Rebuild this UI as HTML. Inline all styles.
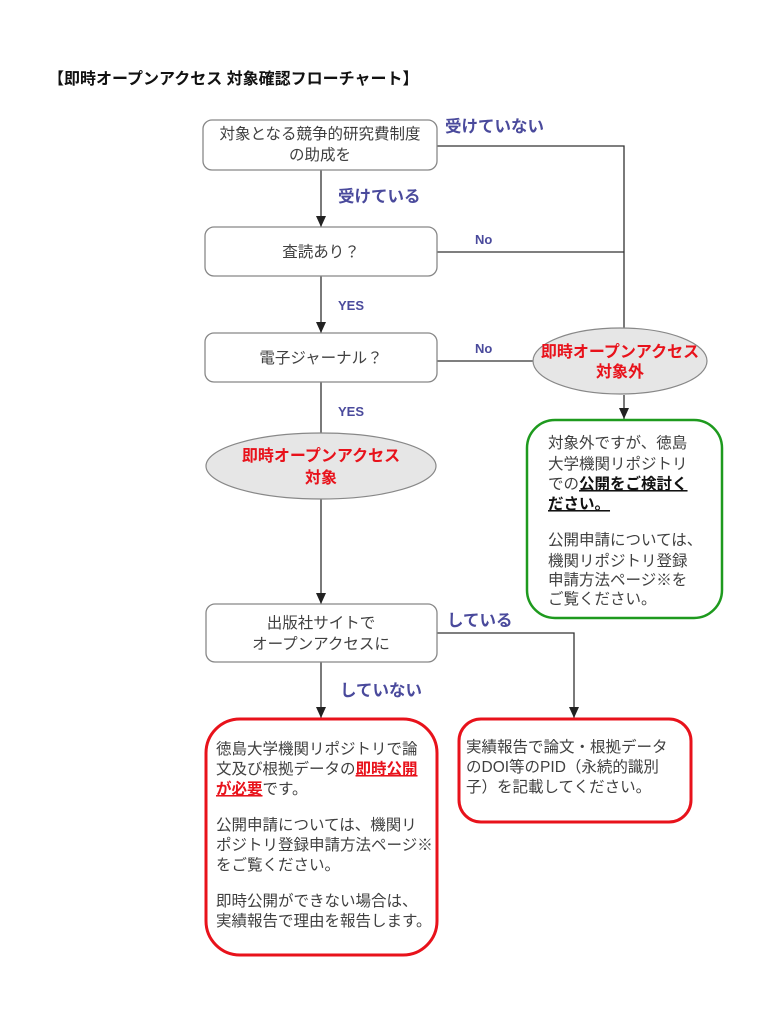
<!DOCTYPE html>
<html><head><meta charset="utf-8"><style>
html,body{margin:0;padding:0;background:#fff;}
svg{display:block;font-family:"Liberation Sans","Noto Sans CJK JP",sans-serif;}
.t{font-size:15.5px;fill:#404040;}
.c{text-anchor:middle;}
.lb{font-size:16.5px;fill:#4a4a9c;font-weight:bold;}
.r{fill:#e8121b;font-weight:bold;font-size:16px;text-anchor:middle;}
.ln{stroke:#333;stroke-width:1.3;fill:none;}
.bx{fill:#fff;stroke:#888;stroke-width:1.3;}
</style></head><body>
<svg width="765" height="1024" viewBox="0 0 765 1024">
<defs>
<marker id="d" markerWidth="12" markerHeight="12" refX="6" refY="11" orient="0" markerUnits="userSpaceOnUse"><path d="M1,0 L11,0 L6,11 z" fill="#222"/></marker></defs>
<text x="48" y="84" style="font-size:16px;font-weight:bold;fill:#111">【即時オープンアクセス 対象確認フローチャート】</text>

<polyline class="ln" points="437,146 624,146 624,328"/>
<line class="ln" x1="437" y1="252" x2="624" y2="252"/>
<line class="ln" x1="437" y1="361" x2="534" y2="361"/>
<line class="ln" x1="624" y1="395" x2="624" y2="419" marker-end="url(#d)"/>
<line class="ln" x1="321" y1="170" x2="321" y2="227" marker-end="url(#d)"/>
<line class="ln" x1="321" y1="276" x2="321" y2="333" marker-end="url(#d)"/>
<line class="ln" x1="321" y1="382" x2="321" y2="434"/>
<line class="ln" x1="321" y1="499" x2="321" y2="604" marker-end="url(#d)"/>
<polyline class="ln" points="437,633 574,633 574,718" marker-end="url(#d)"/>
<line class="ln" x1="321" y1="662" x2="321" y2="718" marker-end="url(#d)"/>

<rect class="bx" x="203" y="120" width="234" height="50" rx="9"/>
<text class="t c" x="320" y="139">対象となる競争的研究費制度</text>
<text class="t c" x="320" y="160">の助成を</text>
<rect class="bx" x="205" y="227" width="232" height="49" rx="9"/>
<text class="t c" x="321" y="257">査読あり？</text>
<rect class="bx" x="205" y="333" width="232" height="49" rx="9"/>
<text class="t c" x="321" y="363">電子ジャーナル？</text>
<rect class="bx" x="206" y="604" width="231" height="58" rx="9"/>
<text class="t c" x="321" y="628">出版社サイトで</text>
<text class="t c" x="321" y="649">オープンアクセスに</text>

<ellipse cx="620" cy="361" rx="87" ry="33" fill="#e6e6e6" stroke="#888" stroke-width="1.2"/>
<text class="r" x="620" y="357">即時オープンアクセス</text>
<text class="r" x="620" y="377">対象外</text>
<ellipse cx="321" cy="466" rx="115" ry="33" fill="#e6e6e6" stroke="#888" stroke-width="1.2"/>
<text class="r" x="321" y="461">即時オープンアクセス</text>
<text class="r" x="321" y="483">対象</text>

<text class="lb" x="445" y="132">受けていない</text>
<text class="lb" x="338" y="202">受けている</text>
<text class="lb" x="475" y="244" style="font-size:13px">No</text>
<text class="lb" x="338" y="310" style="font-size:13px">YES</text>
<text class="lb" x="475" y="353" style="font-size:13px">No</text>
<text class="lb" x="338" y="416" style="font-size:13px">YES</text>
<text class="lb" x="447" y="626">している</text>
<text class="lb" x="340" y="696">していない</text>

<rect x="527" y="420" width="195" height="198" rx="28" fill="#fff" stroke="#1e9a1e" stroke-width="2.5"/>
<g class="t">
<text x="548" y="448">対象外ですが、徳島</text>
<text x="548" y="469">大学機関リポジトリ</text>
<text x="548" y="489">での<tspan style="font-weight:bold;fill:#111;text-decoration:underline">公開をご検討く</tspan></text>
<text x="548" y="509" style="font-weight:bold;fill:#111;text-decoration:underline">ださい。 </text>
<text x="548" y="545">公開申請については、</text>
<text x="548" y="566">機関リポジトリ登録</text>
<text x="548" y="585">申請方法ページ※を</text>
<text x="548" y="604">ご覧ください。</text>
</g>

<rect x="206" y="719" width="231" height="236" rx="34" fill="#fff" stroke="#e8121b" stroke-width="3"/>
<g class="t">
<text x="216" y="754">徳島大学機関リポジトリで論</text>
<text x="216" y="774">文及び根拠データの<tspan style="fill:#e8121b;font-weight:bold;text-decoration:underline">即時公開</tspan></text>
<text x="216" y="794"><tspan style="fill:#e8121b;font-weight:bold;text-decoration:underline">が必要</tspan>です。</text>
<text x="216" y="830">公開申請については、機関リ</text>
<text x="216" y="850">ポジトリ登録申請方法ページ※</text>
<text x="216" y="870">をご覧ください。</text>
<text x="216" y="906">即時公開ができない場合は、</text>
<text x="216" y="926">実績報告で理由を報告します。</text>
</g>
<rect x="459" y="719" width="232" height="103" rx="22" fill="#fff" stroke="#e8121b" stroke-width="3"/>
<g class="t">
<text x="466" y="752">実績報告で論文・根拠データ</text>
<text x="466" y="772">のDOI等のPID（永続的識別</text>
<text x="466" y="792">子）を記載してください。</text>
</g>
</svg>
</body></html>
